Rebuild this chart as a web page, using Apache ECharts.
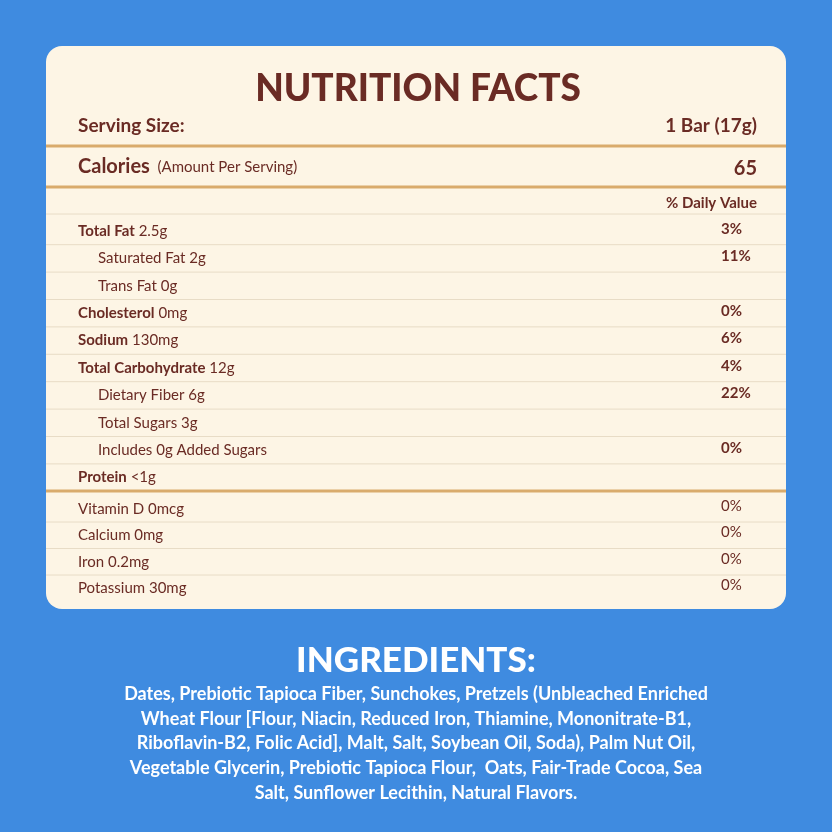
<!doctype html>
<html>
<head>
<meta charset="UTF-8">
<title>Nutrition Facts</title>
<script src="https://cdn.jsdelivr.net/npm/echarts@6/dist/echarts.min.js"></script>
<style>
  html, body { margin: 0; padding: 0; background: #3f8be0; }
  #chart { width: 832px; height: 832px; }
</style>
</head>
<body>
<div id="chart"></div>
<script>
var servingLabel = 'Serving Size:';
var servingValue = '1 Bar (17g)';
var calories = '65';
// [bold part, regular part, % daily value, indented]
var mainRows = [
  ['Total Fat', ' 2.5g', '3%', false],
  ['', 'Saturated Fat 2g', '11%', true],
  ['', 'Trans Fat 0g', '', true],
  ['Cholesterol', ' 0mg', '0%', false],
  ['Sodium', ' 130mg', '6%', false],
  ['Total Carbohydrate', ' 12g', '4%', false],
  ['', 'Dietary Fiber 6g', '22%', true],
  ['', 'Total Sugars 3g', '', true],
  ['', 'Includes 0g Added Sugars', '0%', true],
  ['Protein', ' <1g', '', false]
];
var vitaminRows = [
  ['Vitamin D 0mcg', '0%'],
  ['Calcium 0mg', '0%'],
  ['Iron 0.2mg', '0%'],
  ['Potassium 30mg', '0%']
];
var ingredientLines = [
  'Dates, Prebiotic Tapioca Fiber, Sunchokes, Pretzels (Unbleached Enriched',
  'Wheat Flour [Flour, Niacin, Reduced Iron, Thiamine, Mononitrate-B1,',
  'Riboflavin-B2, Folic Acid], Malt, Salt, Soybean Oil, Soda), Palm Nut Oil,',
  'Vegetable Glycerin, Prebiotic Tapioca Flour,  Oats, Fair-Trade Cocoa, Sea',
  'Salt, Sunflower Lecithin, Natural Flavors.'
];

var brown = '#6a2b24', tan = '#d9ab6c', thin = '#e8dcc6', font = 'Lato, "Open Sans", sans-serif';
var g = [];
function txt(x, y, s, size, weight, align, color) {
  g.push({ type: 'text', x: x, y: y, style: { text: s, fill: color || brown, font: weight + ' ' + size + 'px ' + font, textAlign: align || 'left', textVerticalAlign: 'middle' } });
}
function line(y, w, c) {
  g.push({ type: 'line', shape: { x1: 46, y1: y, x2: 786, y2: y }, style: { stroke: c, lineWidth: w } });
}
function rich(x, y, b, r, size) {
  g.push({ type: 'text', x: x, y: y, style: { text: '{b|' + b + '}{r|' + r + '}', textVerticalAlign: 'middle',
    rich: { b: { fill: brown, font: 'bold ' + size + 'px ' + font }, r: { fill: brown, font: 'normal ' + size + 'px ' + font } } } });
}

g.push({ type: 'rect', shape: { x: 46, y: 46, width: 740, height: 563, r: 16 }, style: { fill: '#fdf5e5' } });
txt(418, 89, 'NUTRITION FACTS', 37, '900', 'center');
txt(78, 126, servingLabel, 19, 'bold');
txt(757, 126, servingValue, 19, 'bold', 'right');
line(146, 3, tan);
rich(78, 167, 'Calories', '  (Amount Per Serving)', 15);
g[g.length - 1].style.rich.b.font = 'bold 20px ' + font;
txt(757, 169, calories, 20, 'bold', 'right');
line(187, 3, tan);
txt(757, 203, '% Daily Value', 15, 'bold', 'right');
line(214, 1, thin);

var rowH = 27.4, y0 = 231;
mainRows.forEach(function (r, i) {
  var y = y0 + i * rowH;
  rich(r[3] ? 98 : 78, y, r[0], r[1], 15);
  if (r[2]) txt(721, y - 2, r[2], 15, 'bold');
  if (i < mainRows.length - 1) line(y + 13.7, 1, thin);
});
line(491, 3, tan);
vitaminRows.forEach(function (r, i) {
  var y = 509 + i * 26.5;
  txt(78, y, r[0], 15, 'normal');
  txt(721, y - 3, r[1], 15, 'normal');
  if (i < vitaminRows.length - 1) line(y + 13, 1, thin);
});

txt(416, 661, 'INGREDIENTS:', 35, '900', 'center', '#ffffff');
ingredientLines.forEach(function (s, i) {
  txt(416, 694 + i * 24.7, s, 18, 'bold', 'center', '#ffffff');
});

var chart = echarts.init(document.getElementById('chart'));
chart.setOption({ backgroundColor: '#3f8be0', graphic: g });
</script>
</body>
</html>
